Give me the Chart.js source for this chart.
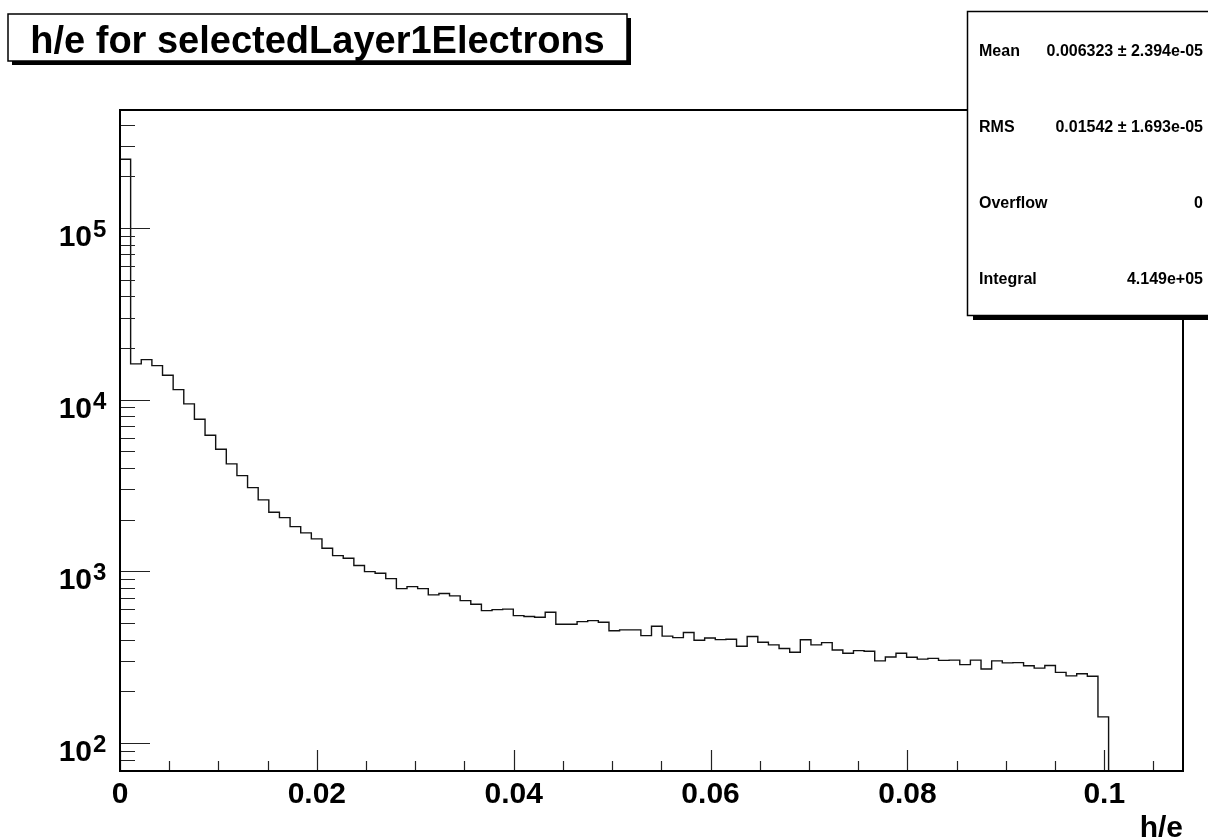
<!DOCTYPE html>
<html lang="en">
<head>
<meta charset="UTF-8">
<title>h/e for selectedLayer1Electrons</title>
<script src="https://cdn.jsdelivr.net/npm/chart.js"></script>
<style>
  html, body { margin: 0; padding: 0; background: #fff; }
  canvas { display: block; }
</style>
</head>
<body>
<canvas id="heChart" width="1208" height="839"></canvas>
<script>
// 100 bins of h/e between 0 and 0.108
const binWidth = 0.00108;
const binCounts = [
  251000, 16140, 17100, 15780, 13875, 11435, 9440, 7690, 6203, 5142,
  4222, 3609, 3073, 2605, 2209, 2055, 1821, 1674, 1544, 1363,
  1234, 1192, 1080, 996, 975, 907, 793, 814, 793, 729,
  742, 719, 675, 643, 590, 598, 602, 552, 545, 540,
  578, 492, 492, 509, 516, 505, 451, 456, 456, 422,
  479, 419, 411, 440, 397, 409, 400, 402, 366, 417,
  386, 373, 355, 338, 399, 373, 384, 348, 333, 345,
  342, 301, 317, 333, 316, 308, 311, 303, 304, 286,
  304, 270, 301, 293, 294, 282, 273, 283, 258, 246,
  253, 245, 142, 0, 0, 0, 0, 0, 0, 0
];

const xMax = 0.108;
const yMin = 68.7;
const yMax = 486000;
const xTickLabels = ['0', '0.02', '0.04', '0.06', '0.08', '0.1'];
const yDecades = [2, 3, 4, 5];

const titleText = 'h/e for selectedLayer1Electrons';
const statNames = ['Mean', 'RMS', 'Overflow', 'Integral'];
const statValues = ['0.006323 \u00b1 2.394e-05', '0.01542 \u00b1 1.693e-05', '0', '4.149e+05'];

const FONT = '"Liberation Sans", Arial, Helvetica, sans-serif';

// outline of the histogram: rise at 0, one step per filled bin, drop after the last one
const lastBin = binCounts.reduce((last, c, i) => (c > 0 ? i : last), 0);
const outline = [{ x: 0, y: yMin }];
binCounts.forEach((c, i) => {
  if (c > 0) outline.push({ x: i * binWidth, y: c });
});
outline.push({ x: (lastBin + 1) * binWidth, y: yMin });

function isMajorX(v) {
  const k = Math.round(v / 0.02);
  return Math.abs(v - k * 0.02) < 1e-9 && k < xTickLabels.length ? k : -1;
}

const rootStyle = {
  id: 'rootStyle',
  afterDraw(chart) {
    const ctx = chart.ctx;
    const area = chart.chartArea;
    const xs = chart.scales.x;
    const ys = chart.scales.y;
    ctx.save();

    // ticks inside the frame
    ctx.strokeStyle = '#222';
    ctx.lineWidth = 1.2;
    ctx.beginPath();
    xs.ticks.forEach(t => {
      const px = Math.round(xs.getPixelForValue(t.value)) + 0.5;
      const len = isMajorX(t.value) >= 0 ? 21 : 10;
      ctx.moveTo(px, area.bottom);
      ctx.lineTo(px, area.bottom - len);
    });
    for (let e = 1; e <= 5; e++) {
      for (let m = 1; m <= 9; m++) {
        const v = m * Math.pow(10, e);
        if (v < yMin || v > yMax) continue;
        const py = Math.round(ys.getPixelForValue(v)) + 0.5;
        ctx.moveTo(area.left, py);
        ctx.lineTo(area.left + (m === 1 ? 30 : 15), py);
      }
    }
    ctx.stroke();

    // frame
    ctx.strokeStyle = '#000';
    ctx.lineWidth = 2;
    ctx.strokeRect(area.left, area.top, area.right - area.left, area.bottom - area.top);

    // y labels as 10 with a raised exponent
    ctx.fillStyle = '#000';
    yDecades.forEach(e => {
      const py = ys.getPixelForValue(Math.pow(10, e));
      ctx.font = 'bold 30px ' + FONT;
      ctx.textAlign = 'right';
      ctx.textBaseline = 'alphabetic';
      ctx.fillText('10', 92, py + 18);
      ctx.font = 'bold 24px ' + FONT;
      ctx.textAlign = 'left';
      ctx.fillText(String(e), 93, py + 9);
    });

    // title box with shadow
    const tb = { x: 8, y: 14, w: 619, h: 47 };
    ctx.fillStyle = '#000';
    ctx.fillRect(tb.x + 4, tb.y + 4, tb.w, tb.h);
    ctx.fillStyle = '#fff';
    ctx.fillRect(tb.x, tb.y, tb.w, tb.h);
    ctx.lineWidth = 1.5;
    ctx.strokeRect(tb.x, tb.y, tb.w, tb.h);
    ctx.fillStyle = '#000';
    ctx.font = 'bold 38px ' + FONT;
    ctx.textAlign = 'center';
    ctx.fillText(titleText, tb.x + tb.w / 2, 53);

    // statistics box
    const sb = { x: 967, y: 11, w: 260, h: 304 };
    ctx.fillStyle = '#000';
    ctx.fillRect(sb.x + 6, sb.y + 5, sb.w, sb.h);
    ctx.fillStyle = '#fff';
    ctx.fillRect(sb.x, sb.y, sb.w, sb.h);
    ctx.lineWidth = 1.5;
    ctx.strokeRect(sb.x + 0.5, sb.y + 0.5, sb.w, sb.h);
    ctx.fillStyle = '#000';
    ctx.font = 'bold 16px ' + FONT;
    statNames.forEach((name, i) => {
      const by = 56 + i * 76;
      ctx.textAlign = 'left';
      ctx.fillText(name, 979, by);
      ctx.textAlign = 'right';
      ctx.fillText(statValues[i], 1203, by);
    });

    ctx.restore();
  }
};

new Chart(document.getElementById('heChart'), {
  type: 'line',
  data: {
    datasets: [{
      data: outline,
      stepped: true,
      borderColor: '#111',
      borderWidth: 1.4,
      pointRadius: 0,
      fill: false
    }]
  },
  options: {
    responsive: false,
    animation: false,
    devicePixelRatio: 1,
    layout: { padding: { top: 110, right: 25, left: 0, bottom: 0 } },
    plugins: { legend: { display: false }, tooltip: { enabled: false } },
    scales: {
      x: {
        type: 'linear',
        min: 0,
        max: xMax,
        afterFit: s => { s.height = 68; },
        grid: { display: false, drawTicks: false },
        border: { display: false },
        ticks: {
          stepSize: 0.005,
          includeBounds: false,
          autoSkip: false,
          maxRotation: 0,
          padding: 6,
          color: '#000',
          font: { family: FONT, size: 30, weight: 'bold' },
          callback: v => {
            const k = isMajorX(v);
            return k >= 0 ? xTickLabels[k] : '';
          }
        },
        title: {
          display: true,
          text: 'h/e',
          align: 'end',
          color: '#000',
          font: { family: FONT, size: 30, weight: 'bold' },
          padding: { top: 0, bottom: -8 }
        }
      },
      y: {
        type: 'logarithmic',
        min: yMin,
        max: yMax,
        afterFit: s => { s.width = 120; },
        grid: { display: false },
        border: { display: false },
        ticks: { display: false }
      }
    }
  },
  plugins: [rootStyle]
});
</script>
</body>
</html>
